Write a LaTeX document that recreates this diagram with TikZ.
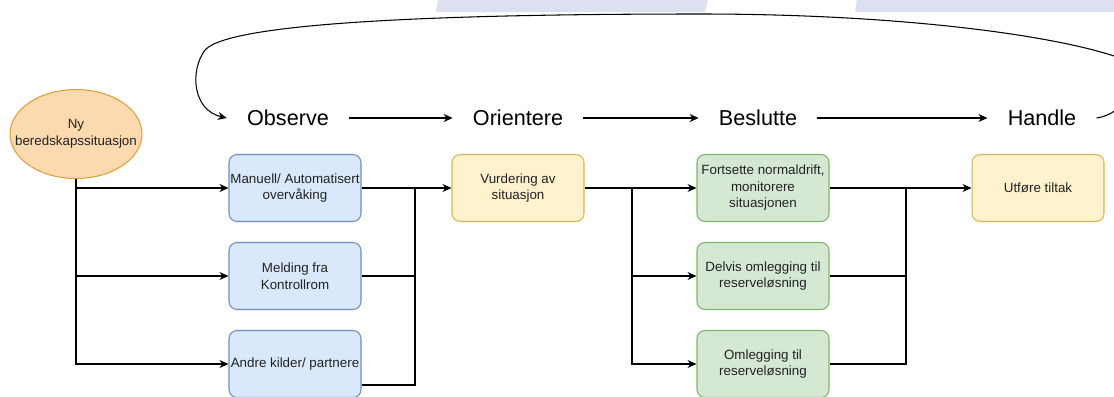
\documentclass[tikz,border=0pt]{standalone}
\usepackage{fontspec}
\setmainfont{Liberation Sans}
\usetikzlibrary{arrows.meta,shapes.geometric,positioning}
\definecolor{bluefill}{HTML}{DAE8FC}
\definecolor{blueline}{HTML}{6C8EBF}
\definecolor{yelfill}{HTML}{FFF2CC}
\definecolor{yelline}{HTML}{D6B656}
\definecolor{grnfill}{HTML}{D5E8D4}
\definecolor{grnline}{HTML}{82B366}
\definecolor{orgfill}{HTML}{FCD9AE}
\definecolor{orgline}{HTML}{D9A23C}
\definecolor{lavender}{HTML}{DDE0EE}
\definecolor{boxtext}{HTML}{222222}

\begin{document}
\begin{tikzpicture}[x=0.02cm, y=-0.02cm,
    box/.style={draw, rounded corners=0.16cm, minimum width=2.64cm, minimum height=1.34cm,
        align=center, inner sep=0pt, line width=0.6pt, text=boxtext,
        font=\fontsize{7.6}{9.4}\selectfont},
    bluebox/.style={box, fill=bluefill, draw=blueline},
    yelbox/.style={box, fill=yelfill, draw=yelline},
    grnbox/.style={box, fill=grnfill, draw=grnline},
    phase/.style={inner sep=0.4cm, font=\fontsize{12.3}{14}\selectfont},
    link/.style={line width=0.7pt},
    arr/.style={link, -{Stealth[length=0.18cm, width=0.16cm]}}]
    \useasboundingbox (0,0) rectangle (1114,396);
    \clip (0,0) rectangle (1114,396);

    % faint shapes at the top edge
    \fill[lavender] (438,0) -- (708,0) -- (705,12) -- (436,12) -- cycle;
    \fill[lavender] (857,0) -- (1114,0) -- (1114,12) -- (855,12) -- cycle;

    % start
    \node[ellipse, draw=orgline, fill=orgfill, line width=0.6pt, minimum width=2.64cm,
        minimum height=1.78cm, inner xsep=-0.35cm, inner ysep=0pt, align=center, text=boxtext,
        font=\fontsize{7.6}{9.4}\selectfont] (ny) at (76,134) {Ny\\beredskapssituasjon};

    % phases
    \node[phase] (obs) at (288,118) {Observe};
    \node[phase] (ori) at (518,118) {Orientere};
    \node[phase] (bes) at (758,118) {Beslutte};
    \node[phase] (han) at (1042,118) {Handle};

    \draw[arr] (obs) -- (ori);
    \draw[arr] (ori) -- (bes);
    \draw[arr] (bes) -- (han);
    \draw[arr, line width=0.6pt] (han.east) .. controls (1135,112) and (1140,65) .. (1114,56)
        .. controls (1050,35) and (900,14) .. (700,14)
        .. controls (450,14) and (230,22) .. (205,50)
        .. controls (190,70) and (192,110) .. (obs.west);

    % observe
    \node[bluebox] (mano) at (295,188) {Manuell/ Automatisert\\overvåking};
    \node[bluebox] (meld) at (295,276) {Melding fra\\Kontrollrom};
    \node[bluebox] (andre) at (295,364) {Andre kilder/ partnere};

    % orientere
    \node[yelbox] (vurd) at (518,188) {Vurdering av\\situasjon};

    % beslutte
    \node[grnbox] (fort) at (763,188) {Fortsette normaldrift,\\monitorere\\situasjonen};
    \node[grnbox] (delv) at (763,276) {Delvis omlegging til\\reserveløsning};
    \node[grnbox] (oml) at (763,364) {Omlegging til\\reserveløsning};

    % handle
    \node[yelbox] (utf) at (1038,188) {Utføre tiltak};

    % connectors
    \coordinate (j1) at (415,188);
    \coordinate (j2) at (632,188);
    \coordinate (j3) at (906,188);

    \draw[arr] (ny.south) |- (mano.west);
    \draw[arr] (ny.south) |- (meld.west);
    \draw[arr] (ny.south) |- (andre.west);

    \draw[arr] (mano.east) -- (vurd.west);
    \draw[link] (meld.east) -| (j1);
    \draw[link] ([yshift=-0.42cm]andre.east) -| (j1);

    \draw[arr] (vurd.east) -- (fort.west);
    \draw[arr] (j2) |- (delv.west);
    \draw[arr] (j2) |- (oml.west);

    \draw[arr] (fort.east) -- (utf.west);
    \draw[link] (delv.east) -| (j3);
    \draw[link] (oml.east) -| (j3);
\end{tikzpicture}
\end{document}
